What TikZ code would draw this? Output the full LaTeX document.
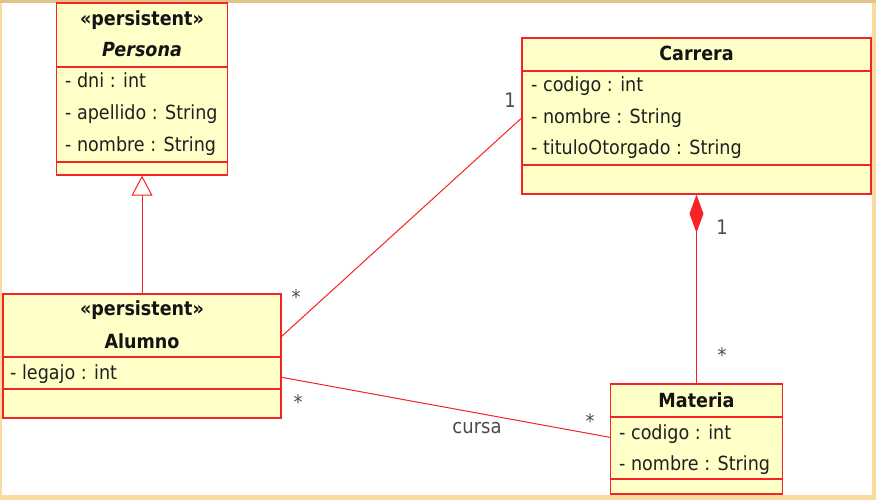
\documentclass[tikz,border=0pt]{standalone}
\usepackage{fontspec}
\setmainfont{DejaVu Sans Condensed}
\usetikzlibrary{arrows.meta}
\definecolor{umlfill}{RGB}{255,255,200}
\definecolor{umlred}{RGB}{245,35,35}
\definecolor{frametan}{RGB}{250,220,162}
\definecolor{frametop}{RGB}{224,196,136}
\definecolor{labelgray}{RGB}{75,75,75}
\begin{document}
\begin{tikzpicture}[x=1pt,y=-1pt,
  classbox/.style={draw=umlred, fill=umlfill, line width=1.4pt, inner sep=0pt, rectangle},
  sepline/.style={draw=umlred, line width=1.4pt},
  attr/.style={anchor=base west, inner sep=0pt, font=\fontsize{19.5}{23}\selectfont, text=black!88},
  ttl/.style={anchor=base, inner sep=0pt, font=\fontsize{19.5}{23}\selectfont\bfseries, text=black!92},
  lbl/.style={anchor=base, inner sep=0pt, font=\fontsize{20}{24}\selectfont, text=labelgray},
  conn/.style={draw=umlred, line width=1pt}]
\useasboundingbox (0,0) rectangle (876,500);
\fill[frametan] (0,0) rectangle (876,500);
\fill[frametop] (0,0) rectangle (876,3);
\fill[white] (2,3) rectangle (872,495);

% Persona
\node[classbox, minimum width=171pt, minimum height=172pt] (persona) at (142,89) {};
\draw[sepline] (persona.west |- 0,67) -- (persona.east |- 0,67);
\draw[sepline] (persona.west |- 0,162) -- (persona.east |- 0,162);
\node[ttl] (pstA) at (142,26) {«persistent»};
\node[ttl, font=\fontsize{19.5}{23}\selectfont\bfseries\itshape] (pname) at (142,57) {Persona};
\node[attr] (pa1) at (65,88) {- dni : int};
\node[attr] (pa2) at (65,120) {- apellido : String};
\node[attr] (pa3) at (65,152) {- nombre : String};

% Alumno
\node[classbox, minimum width=278pt, minimum height=124pt] (alumno) at (142,356) {};
\draw[sepline] (alumno.west |- 0,357) -- (alumno.east |- 0,357);
\draw[sepline] (alumno.west |- 0,389) -- (alumno.east |- 0,389);
\node[ttl] (pstB) at (142,315) {«persistent»};
\node[ttl] (aname) at (142,348) {Alumno};
\node[attr] (aa1) at (10,379) {- legajo : int};

% Carrera
\node[classbox, minimum width=349pt, minimum height=156pt] (carrera) at (696.5,116) {};
\draw[sepline] (carrera.west |- 0,71) -- (carrera.east |- 0,71);
\draw[sepline] (carrera.west |- 0,165) -- (carrera.east |- 0,165);
\node[ttl] (cname) at (696.5,61) {Carrera};
\node[attr] (ca1) at (531,92) {- codigo : int};
\node[attr] (ca2) at (531,124) {- nombre : String};
\node[attr] (ca3) at (531,155) {- tituloOtorgado : String};

% Materia
\node[classbox, minimum width=172pt, minimum height=110pt] (materia) at (696.5,439) {};
\draw[sepline] (materia.west |- 0,417) -- (materia.east |- 0,417);
\draw[sepline] (materia.west |- 0,479) -- (materia.east |- 0,479);
\node[ttl] (mname) at (696.5,407) {Materia};
\node[attr] (ma1) at (619,439) {- codigo : int};
\node[attr] (ma2) at (619,470) {- nombre : String};

% Connectors
\draw[conn, -{Triangle[open, length=20pt, width=21pt, fill=white, line width=1pt]}] (alumno.north) -- (persona.south);
\draw[conn] ([yshift=-43pt]alumno.north east) -- ([yshift=-81pt]carrera.north west);
\draw[conn] ([yshift=-84pt]alumno.north east) -- ([yshift=-54pt]materia.north west);
\draw[conn, {Diamond[length=38pt, width=14pt]}-] (carrera.south) -- (materia.north);

% Labels
\node[lbl] (l1) at (510,108) {1};
\node[lbl] (l2) at (296,304) {*};
\node[lbl] (l3) at (298,409) {*};
\node[lbl] (l4) at (590,428) {*};
\node[lbl] (l5) at (477,433) {cursa};
\node[lbl] (l6) at (722,234) {1};
\node[lbl] (l7) at (722,362) {*};
\end{tikzpicture}
\end{document}
